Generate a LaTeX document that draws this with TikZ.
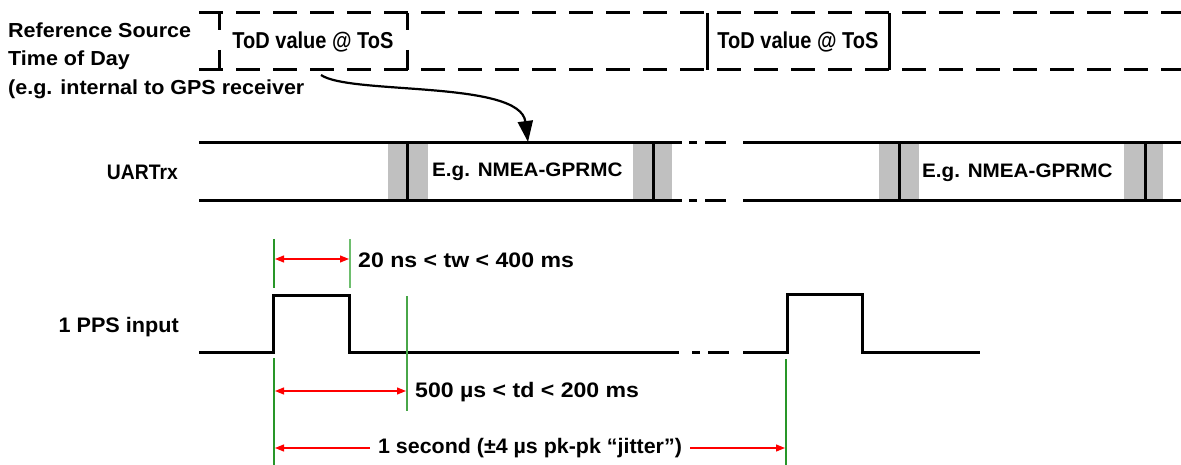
\documentclass[tikz,border=0pt]{standalone}
\usepackage{fontspec}
\usepackage{graphicx}
\setmainfont{Liberation Sans}
\usetikzlibrary{arrows.meta}
\definecolor{gdark}{RGB}{40,150,40}
\definecolor{glight}{RGB}{110,190,110}
\definecolor{slotgray}{RGB}{192,192,192}
% horizontally scaled text
\newcommand{\wide}[2]{\scalebox{#1}[1]{#2}}
\begin{document}
\begin{tikzpicture}[x=1pt,y=-1pt,line join=miter,
  sig/.style={line width=3pt},
  todline/.style={line width=3pt,dash pattern=on 24pt off 13pt},
  txt/.style={inner sep=0pt,font=\fontsize{#1}{#1}\selectfont\bfseries},
  gline/.style={line width=1.3pt,draw=#1},
  dim/.style={draw=red,line width=1.2pt,{Triangle[length=9pt,width=7pt]}-{Triangle[length=9pt,width=7pt]}},
  slotbox/.style={fill=slotgray,draw=none}]
\useasboundingbox (0,0) rectangle (1181,465);

% ---- reference time-of-day row ----
\draw[todline] (199,13) -- (1181,13);
\draw[todline] (199,70) -- (1181,70);
\foreach \x in {219,407}{\draw[sig] (\x,13) -- (\x,30); \draw[sig] (\x,50) -- (\x,70);}
\foreach \x in {707,889}{\draw[sig] (\x,13) -- (\x,70);}
\node[txt=20.3,anchor=base west] (ref1) at (8,38) {\wide{1.06}{Reference Source}};
\node[txt=20.3,anchor=base west] (ref2) at (8,66) {\wide{1.06}{Time of Day}};
\node[txt=20.3,anchor=base west] (ref3) at (8,95) {\wide{1.06}{(e.g. internal to GPS receiver}};
\node[txt=23,anchor=base] (tod1) at (313,48.5) {\wide{0.87}{ToD value @ ToS}};
\node[txt=23,anchor=base] (tod2) at (798,48.5) {\wide{0.87}{ToD value @ ToS}};

% ---- UART receive row ----
\fill[slotbox] (388,143) rectangle (428,201);
\fill[slotbox] (633,143) rectangle (672,201);
\fill[slotbox] (879,143) rectangle (919,201);
\fill[slotbox] (1124,143) rectangle (1163,201);
\foreach \y in {143,201}{
  \draw[sig] (199,\y) -- (682,\y);
  \draw[sig] (689,\y) -- (697,\y);
  \draw[sig] (705,\y) -- (726,\y);
  \draw[sig] (743,\y) -- (1181,\y);}
\foreach \x in {407,653,899,1145}{\draw[sig] (\x,143) -- (\x,201);}
\node[txt=21,anchor=base east] (uart) at (178,180) {\wide{0.92}{UARTrx}};
\node[txt=19.5,anchor=base west] (msg1) at (432,177) {\wide{1.06}{E.g. NMEA-GPRMC}};
\node[txt=19.5,anchor=base west] (msg2) at (922,178) {\wide{1.06}{E.g. NMEA-GPRMC}};

% time of day carried by the serial message
\coordinate (src) at (321,75);
\coordinate (dst) at (528,142);
\draw[line width=2.2pt,-{Triangle[length=21pt,width=15pt]}] (src) .. controls (350,95) and (520,80) .. (dst);

% ---- 1 PPS row ----
\node[txt=21,anchor=base east] (pps) at (179,332) {\wide{1.03}{1 PPS input}};
\draw[sig] (199,352) -- (273,352) -- (273,295) -- (349,295) -- (349,352) -- (679,352);
\draw[sig] (692,352) -- (700,352);
\draw[sig] (708,352) -- (729,352);
\draw[sig] (743,352) -- (787,352) -- (787,294) -- (862,294) -- (862,352) -- (980,352);

% timing markers
\draw[gline=gdark] (274,239) -- (274,288);
\draw[gline=gdark] (274,358) -- (274,465);
\draw[gline=glight] (350,239) -- (350,288);
\draw[gline=gdark!85] (407,296) -- (407,411);
\draw[gline=gdark] (786,359) -- (786,465);

% dimensions
\draw[dim] (275,259) -- (349,259);
\draw[dim] (275,391) -- (406,391);
\draw[dim] (275,448) -- (785,448);
\node[txt=21,anchor=base west] (tw) at (358,267) {\wide{1.10}{20 ns < tw < 400 ms}};
\node[txt=21,anchor=base west] (td) at (415,397) {\wide{1.10}{500 µs < td < 200 ms}};
\node[txt=21,anchor=base,fill=white,inner xsep=8pt,inner ysep=1pt] (jit) at (530,453) {\wide{1.02}{1 second (±4 µs pk-pk “jitter”)}};
\end{tikzpicture}
\end{document}
